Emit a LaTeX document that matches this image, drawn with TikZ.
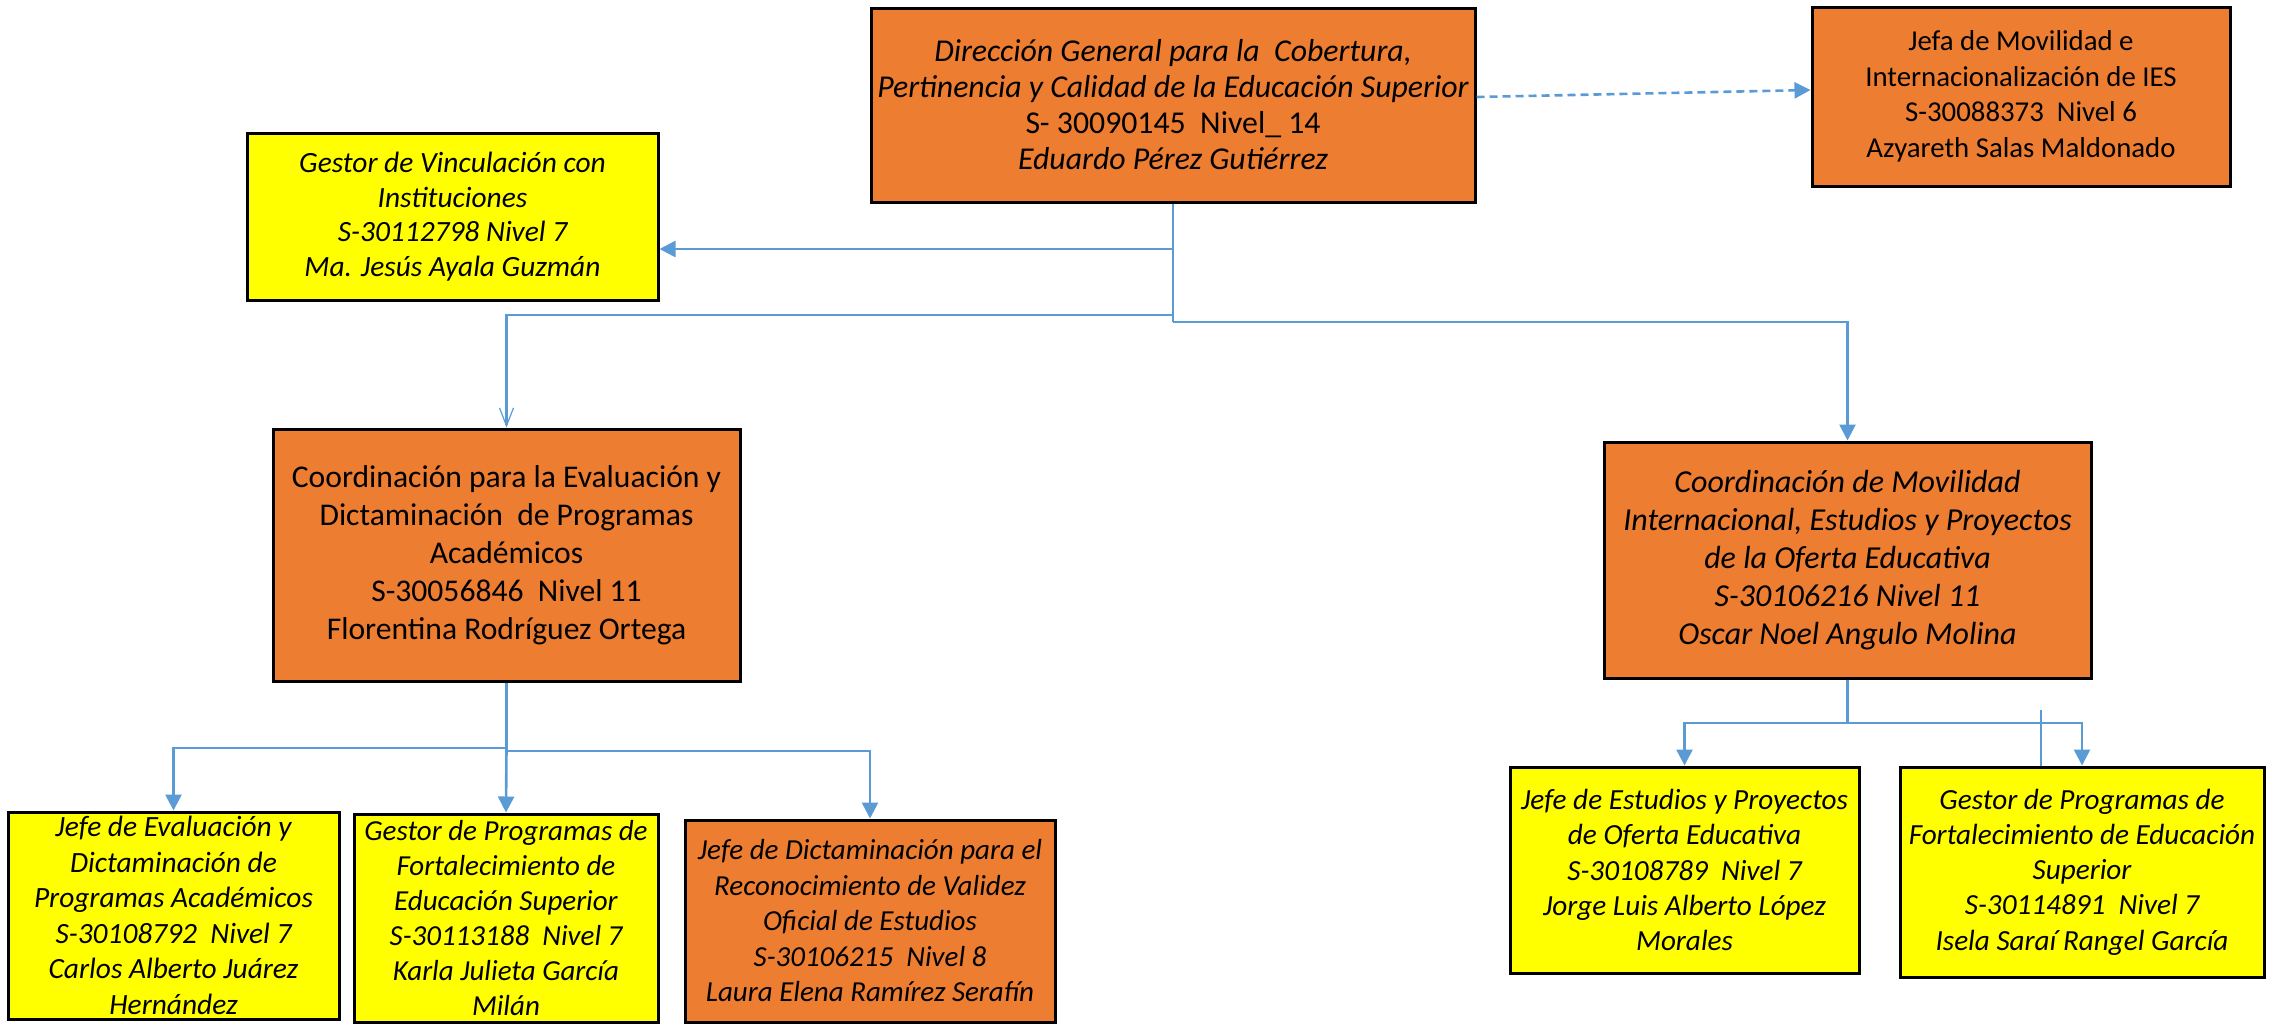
\documentclass[tikz,border=0pt]{standalone}
\usepackage{fontspec}
\setmainfont{Carlito}
\usetikzlibrary{arrows.meta}
\definecolor{orgfill}{HTML}{ED7D31}
\definecolor{yelfill}{HTML}{FFFF00}
\definecolor{connblue}{HTML}{5B9BD5}
\tikzset{
  box/.style={draw=black, line width=1.5pt, align=center, inner sep=0pt, text=black},
  obox/.style={box, fill=orgfill},
  ybox/.style={box, fill=yelfill},
  conn/.style={draw=connblue, line width=1.3pt},
  tip/.style={-{Triangle[length=8pt,width=8pt]}},
  vtip/.style={-{Straight Barb[length=9pt,width=7pt,line width=0.6pt]}},
}
\begin{document}
\begin{tikzpicture}[x=0.5pt,y=-0.5pt]
\useasboundingbox (0,0) rectangle (2279,1023);
% nodes
\node[obox, minimum width=302pt, minimum height=97pt, font=\fontsize{15.9}{18}\selectfont] (dir) at (1173,105)
 {\itshape Dirección General para la\ \ Cobertura,\\ \itshape Pertinencia y Calidad de la Educación Superior\\ S- 30090145\ \ Nivel\_ 14\\ \itshape Eduardo Pérez Gutiérrez};
\node[obox, minimum width=209pt, minimum height=89.5pt, font=\fontsize{14.4}{17.8}\selectfont] (jefa) at (2021,96.5)
 {Jefa de Movilidad e\\ Internacionalización de IES\\ S-30088373\ \ Nivel 6\\ Azyareth Salas Maldonado};
\node[ybox, minimum width=205.5pt, minimum height=83.5pt, font=\fontsize{14.7}{17.25}\selectfont\itshape] (vinc) at (452.5,216.5)
 {Gestor de Vinculación con\\ Instituciones\\ S-30112798 Nivel 7\\ Ma. Jesús Ayala Guzmán};
\node[obox, minimum width=233.5pt, minimum height=126pt, font=\fontsize{15.8}{19}\selectfont] (coordL) at (506.5,555)
 {Coordinación para la Evaluación y\\ Dictaminación\ \ de Programas\\ Académicos\\ S-30056846\ \ Nivel 11\\ Florentina Rodríguez Ortega};
\node[obox, minimum width=243.5pt, minimum height=118pt, font=\fontsize{16}{19}\selectfont\itshape] (coordR) at (1847.5,560)
 {Coordinación de Movilidad\\ Internacional, Estudios y Proyectos\\ de la Oferta Educativa\\ S-30106216 Nivel 11\\ Oscar Noel Angulo Molina};
\node[ybox, minimum width=165.5pt, minimum height=103.5pt, font=\fontsize{14.7}{17.75}\selectfont\itshape] (b1) at (173.5,915.5)
 {Jefe de Evaluación y\\ Dictaminación de\\ Programas Académicos\\ S-30108792\ \ Nivel 7\\ Carlos Alberto Juárez\\ Hernández};
\node[ybox, minimum width=152pt, minimum height=104pt, font=\fontsize{14.5}{17.5}\selectfont\itshape] (b2) at (506,918)
 {Gestor de Programas de\\ Fortalecimiento de\\ Educación Superior\\ S-30113188\ \ Nivel 7\\ Karla Julieta García\\ Milán};
\node[obox, minimum width=185pt, minimum height=101pt, font=\fontsize{14.5}{17.75}\selectfont\itshape] (b3) at (870,921)
 {Jefe de Dictaminación para el\\ Reconocimiento de Validez\\ Oficial de Estudios\\ S-30106215\ \ Nivel 8\\ Laura Elena Ramírez Serafín};
\node[ybox, minimum width=174.5pt, minimum height=103pt, font=\fontsize{14.6}{17.65}\selectfont\itshape] (b4) at (1684.5,870)
 {Jefe de Estudios y Proyectos\\ de Oferta Educativa\\ S-30108789\ \ Nivel 7\\ Jorge Luis Alberto López\\ Morales};
\node[ybox, minimum width=182pt, minimum height=105pt, font=\fontsize{14.6}{17.6}\selectfont\itshape] (b5) at (2082,872)
 {Gestor de Programas de\\ Fortalecimiento de Educación\\ Superior\\ S-30114891\ \ Nivel 7\\ Isela Saraí Rangel García};
% junction coordinates
\coordinate (jV) at (1173,249);
\coordinate (jL) at (1173,315);
\coordinate (jR) at (1173,322);
\coordinate (kL) at (506.5,748);
\coordinate (kR) at (1847.5,723);
\coordinate (stray) at (2041,710);
% connectors
\draw[conn, dashed, dash pattern=on 4pt off 2.5pt, tip] ([yshift=4pt]dir.east) -- ([yshift=3.25pt]jefa.west);
\draw[conn] (dir.south) -- (jR);
\draw[conn, tip] (jV) -- (jV -| vinc.east);
\draw[conn, vtip] (jL) -| (coordL.north);
\draw[conn, tip] (jR) -| (coordR.north);
\draw[conn] (coordL.south) -- (kL);
\draw[conn, tip] (kL) -| (b1.north);
\draw[conn, tip] (kL) -- (b2.north);
\draw[conn, tip] ([yshift=-1.5pt]kL) -| (b3.north);
\draw[conn] (coordR.south) -- (kR);
\draw[conn, tip] (kR) -| (b4.north);
\draw[conn, tip] (kR) -| (b5.north);
\draw[conn] (stray) -- (stray |- b5.north);
\end{tikzpicture}
\end{document}
